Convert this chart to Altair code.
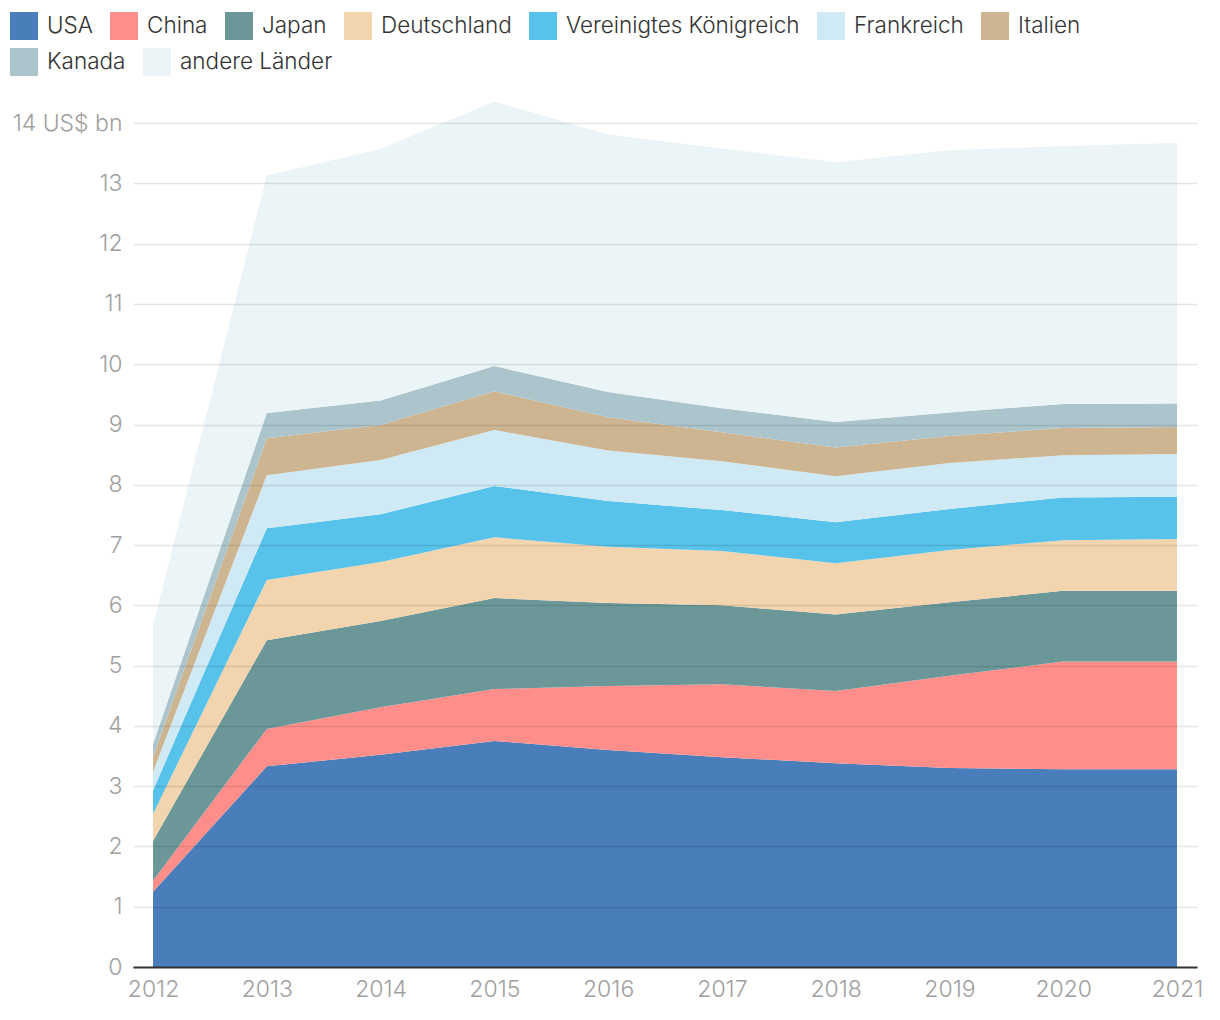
import altair as alt
import pandas as pd

years = [2012, 2013, 2014, 2015, 2016, 2017, 2018, 2019, 2020, 2021]
countries = ["USA", "China", "Japan", "Deutschland", "Vereinigtes Königreich",
             "Frankreich", "Italien", "Kanada", "andere Länder"]
colors = ["#4a7ebb", "#ff8e8a", "#6b9799", "#f2d4ae", "#57c2ea",
          "#d0eaf5", "#cdb592", "#acc5cc", "#ebf4f7"]

usa = [1.25, 3.33, 3.52, 3.75, 3.60, 3.48, 3.38, 3.30, 3.28, 3.28]
china = [0.18, 0.62, 0.79, 0.86, 1.06, 1.21, 1.20, 1.53, 1.79, 1.79]
japan = [0.66, 1.47, 1.43, 1.51, 1.38, 1.31, 1.27, 1.22, 1.17, 1.17]
deutschland = [0.45, 1.00, 0.98, 1.01, 0.93, 0.90, 0.85, 0.87, 0.84, 0.86]
uk = [0.39, 0.86, 0.79, 0.85, 0.76, 0.68, 0.68, 0.68, 0.71, 0.70]
frankreich = [0.31, 0.88, 0.90, 0.93, 0.84, 0.81, 0.76, 0.76, 0.70, 0.71]
italien = [0.25, 0.61, 0.58, 0.64, 0.55, 0.48, 0.48, 0.45, 0.45, 0.45]
kanada = [0.21, 0.42, 0.41, 0.42, 0.42, 0.40, 0.42, 0.39, 0.40, 0.39]
andere = [1.96, 3.94, 4.17, 4.39, 4.27, 4.31, 4.31, 4.35, 4.28, 4.32]

series = [usa, china, japan, deutschland, uk, frankreich, italien, kanada, andere]

rows = []
for i, (c, vals) in enumerate(zip(countries, series)):
    for yr, v in zip(years, vals):
        rows.append({"Jahr": yr, "Land": c, "Land2": c, "Wert": v, "ord": i})
df = pd.DataFrame(rows)

FONT = "Inter"
AXIS_SIZE = 23
LEG_SIZE = 22.5

x_enc = alt.X("Jahr:Q",
              scale=alt.Scale(domain=[2011.824, 2021.176], nice=False, zero=False),
              axis=alt.Axis(values=years, format="d", title=None, grid=False, ticks=False,
                            labelPadding=11, labelFontSize=AXIS_SIZE, labelColor="#a0a0a0",
                            labelFont=FONT, labelFontWeight=300, labelFlush=False,
                            domainColor="#333333", domainWidth=2, zindex=1))
y_enc = alt.Y("Wert:Q", stack="zero",
              scale=alt.Scale(domain=[0, 14.4], nice=False),
              axis=alt.Axis(values=list(range(15)), format="d", title=None, domain=False,
                            ticks=False, labelPadding=11, labelFontSize=AXIS_SIZE,
                            labelColor="#a0a0a0", labelFont=FONT, labelFontWeight=300,
                            labelExpr="datum.value == 14 ? '14 US$ bn' : datum.label",
                            gridColor="#000000", gridOpacity=0.1, gridWidth=1.5, zindex=1))

legend_common = dict(title=None, orient="none", direction="horizontal",
                     gridAlign="none", symbolType="square", symbolSize=784,
                     symbolStrokeWidth=0, symbolOpacity=1,
                     labelFontSize=LEG_SIZE, labelColor="#333333", labelFont=FONT,
                     labelFontWeight=300, labelLimit=400,
                     columnPadding=17, labelOffset=9)

areas = alt.Chart(df).mark_area(opacity=1).encode(
    x=x_enc,
    y=y_enc,
    color=alt.Color("Land:N",
                    scale=alt.Scale(domain=countries, range=colors),
                    legend=alt.Legend(values=countries[:7], columns=7,
                                      legendX=-123, legendY=-87, **legend_common)),
    order=alt.Order("ord:Q", sort="ascending"),
)

legend2 = alt.Chart(df).transform_filter(
    alt.FieldOneOfPredicate(field="Land2", oneOf=countries[7:])
).mark_area(opacity=0).encode(
    x=alt.X("Jahr:Q"),
    y=alt.Y("Wert:Q", stack="zero"),
    color=alt.Color("Land2:N",
                    scale=alt.Scale(domain=countries[7:], range=colors[7:]),
                    legend=alt.Legend(columns=2, legendX=-123, legendY=-51, **legend_common)),
    order=alt.Order("ord:Q", sort="ascending"),
)

chart = alt.layer(areas, legend2).resolve_scale(color="independent").properties(
    width=1064, height=868,
    padding={"left": 2, "top": 4, "right": 5, "bottom": 5},
).configure_view(stroke=None)

chart.save("out.html", embed_options={"renderer": "svg", "actions": False})
